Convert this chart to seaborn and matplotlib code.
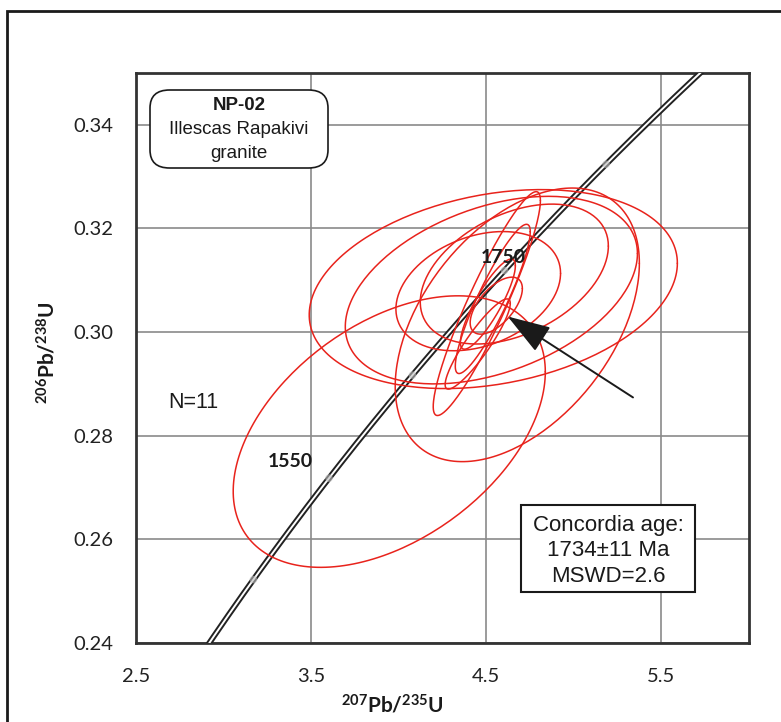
import numpy as np
import pandas as pd
import matplotlib.pyplot as plt
import seaborn as sns
from matplotlib.patches import FancyBboxPatch, Rectangle

# decay constants (1/yr)
L238 = 1.55125e-10
L235 = 9.8485e-10

# concordia age range (Ma) and labelled ages
curve_ages = np.linspace(1350, 1960, 400)
mark_ages = [1450, 1550, 1650, 1750, 1850]
label_ages = ["1550", "1750"]
label_x = [3.38, 4.597]
label_y = [0.2750, 0.3144]

# error ellipses: centre, half extents and correlation
ell_x = [3.946, 4.540, 4.529, 4.677, 4.503, 4.454, 4.537, 4.509, 4.557, 4.451, 4.660]
ell_y = [0.2808, 0.3083, 0.3081, 0.3014, 0.3055, 0.3079, 0.3064, 0.3054, 0.3051, 0.2977, 0.3112]
ell_sx = [0.891, 1.051, 0.834, 0.697, 0.306, 0.470, 0.214, 0.157, 0.149, 0.186, 0.537]
ell_sy = [0.0262, 0.0192, 0.0181, 0.0264, 0.0216, 0.0115, 0.0144, 0.0087, 0.0055, 0.0087, 0.0135]
ell_rho = [0.44, 0.26, 0.39, 0.45, 0.92, 0.30, 0.90, 0.85, 0.60, 0.90, 0.40]

xticks = [2.5, 3.5, 4.5, 5.5]
yticks = [0.24, 0.26, 0.28, 0.30, 0.32, 0.34]

sns.set_theme(style="white")
plt.rcParams['font.family'] = ['Lato', 'DejaVu Sans']
plt.rcParams['mathtext.fontset'] = 'custom'
plt.rcParams['mathtext.rm'] = 'Lato'
plt.rcParams['mathtext.bf'] = 'Lato:bold'

W, H = 781, 722
fig = plt.figure(figsize=(W / 100, H / 100), dpi=100)
ax = fig.add_axes([136 / W, 1 - 643 / H, (749 - 136) / W, (643 - 73) / H])

# concordia curve
t = curve_ages * 1e6
conc = pd.DataFrame({"x": np.exp(L235 * t) - 1, "y": np.exp(L238 * t) - 1})
sns.lineplot(data=conc, x="x", y="y", sort=False, color="#222222", lw=4.2, ax=ax, zorder=3)
sns.lineplot(data=conc, x="x", y="y", sort=False, color="white", lw=1.4, ax=ax, zorder=4)
tm = np.array(mark_ages) * 1e6
ax.scatter(np.exp(L235 * tm) - 1, np.exp(L238 * tm) - 1, s=30, color="#bbbbbb",
           alpha=0.6, edgecolor="none", zorder=5)

# error ellipses
th = np.linspace(0, 2 * np.pi, 200)
rows = []
for i in range(len(ell_x)):
    r = ell_rho[i]
    ex = ell_x[i] + ell_sx[i] * np.cos(th)
    ey = ell_y[i] + ell_sy[i] * (r * np.cos(th) + np.sqrt(1 - r * r) * np.sin(th))
    rows.append(pd.DataFrame({"x": ex, "y": ey, "id": i}))
ells = pd.concat(rows)
sns.lineplot(data=ells, x="x", y="y", units="id", estimator=None, sort=False,
             color="#e8231c", lw=1.1, ax=ax, zorder=6)

for lab, lx, ly in zip(label_ages, label_x, label_y):
    ax.text(lx, ly, lab, ha="center", va="center", fontsize=14, fontweight="bold",
            color="#1a1a1a", zorder=7)

ax.annotate("", xy=(4.609, 0.3033), xytext=(5.351, 0.2871),
            arrowprops=dict(arrowstyle="-|>,head_length=1.5,head_width=0.5",
                            color="#1a1a1a", lw=1.4, mutation_scale=18), zorder=8)

ax.set_xlim(2.5, 6.0)
ax.set_ylim(0.24, 0.35)
ax.set_xticks(xticks)
ax.set_yticks(yticks)
ax.set_xticklabels([f"{v:.1f}" for v in xticks])
ax.set_yticklabels([f"{v:.2f}" for v in yticks])
ax.tick_params(length=0, labelsize=14.5, colors="#222222")
ax.tick_params(axis="x", pad=18)
ax.tick_params(axis="y", pad=16)
ax.grid(True, color="#8a8a8a", lw=1.2)
for s in ax.spines.values():
    s.set_color("#333333")
    s.set_linewidth(2)
ax.set_xlabel("")
ax.set_ylabel("")

fig.text(392 / W, 1 - 705 / H, r"$\mathbf{^{207}Pb/^{235}U}$", ha="center", va="center",
         fontsize=15, color="#1a1a1a")
fig.text(47 / W, 1 - 353 / H, r"$\mathbf{^{206}Pb/^{238}U}$", ha="center", va="center",
         fontsize=15, color="#1a1a1a", rotation=90)

# outer frame
fig.patches.append(Rectangle((7 / W, -0.1), 1.2, 1.1 - 11 / H, transform=fig.transFigure,
                             fill=False, lw=2, edgecolor="#1a1a1a"))

# sample box
fig.patches.append(FancyBboxPatch((150 / W, 1 - 168 / H), 178 / W, 78 / H,
                                  boxstyle="round,pad=0,rounding_size=0.025",
                                  transform=fig.transFigure, facecolor="white",
                                  edgecolor="#1a1a1a", lw=1.2, zorder=10))
fig.text(239 / W, 1 - 105 / H, "NP-02", ha="center", va="center", fontsize=13.5,
         fontweight="bold", family="Liberation Sans", color="#1a1a1a", zorder=11)
fig.text(239 / W, 1 - 129 / H, "Illescas Rapakivi", ha="center", va="center", fontsize=13.5,
         family="Liberation Sans", color="#1a1a1a", zorder=11)
fig.text(239 / W, 1 - 153 / H, "granite", ha="center", va="center", fontsize=13.5,
         family="Liberation Sans", color="#1a1a1a", zorder=11)

ax.text(2.683, 0.2865, "N=11", ha="left", va="center", fontsize=15.5,
        family="Liberation Sans", color="#1a1a1a", zorder=7)

# concordia age box
fig.patches.append(Rectangle((521 / W, 1 - 592 / H), 174 / W, 87 / H,
                             transform=fig.transFigure, facecolor="white",
                             edgecolor="#1a1a1a", lw=1.5, zorder=10))
for txt, py in zip(["Concordia age:", "1734\u00b111 Ma", "MSWD=2.6"], [525, 551, 577]):
    fig.text(608 / W, 1 - py / H, txt, ha="center", va="center", fontsize=16,
             family="Liberation Sans", color="#1a1a1a", zorder=11)

fig.savefig("out.png", dpi=100)
